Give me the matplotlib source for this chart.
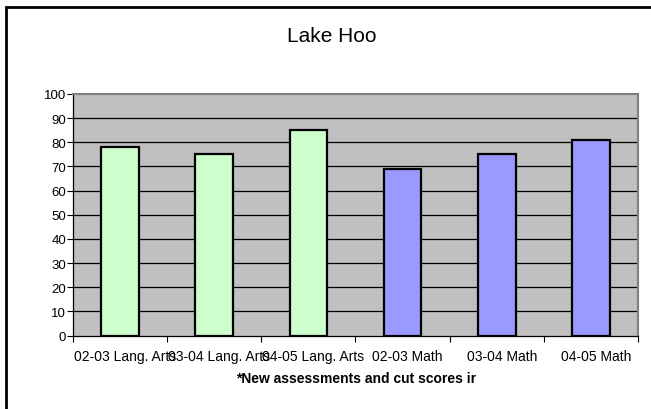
import matplotlib.pyplot as plt
from matplotlib.patches import Rectangle
from matplotlib.transforms import ScaledTranslation

plt.rcParams['font.family'] = ['Liberation Sans', 'DejaVu Sans']

categories = ["02-03 Lang. Arts", "03-04 Lang. Arts", "04-05 Lang. Arts",
              "02-03 Math", "03-04 Math", "04-05 Math"]
scores = [78, 75, 85, 69, 75, 81]
colors = ["#CCFFCC", "#CCFFCC", "#CCFFCC", "#9999FF", "#9999FF", "#9999FF"]
yticks = [0, 10, 20, 30, 40, 50, 60, 70, 80, 90, 100]

W, H = 651, 410
fig = plt.figure(figsize=(W / 100, H / 100), dpi=100)

# outer chart border, runs off the right and bottom edges
fig.patches.append(Rectangle((6 / W, -0.1), 1.2, 1 - 8 / H + 0.1,
                             transform=fig.transFigure, fill=False,
                             edgecolor="black", linewidth=2))

ax = fig.add_axes([73 / W, 1 - 336.5 / H, (638 - 73) / W, (336.5 - 95) / H])
ax.set_facecolor("#C0C0C0")

x = range(len(categories))
ax.bar(x, scores, width=0.4, color=colors, edgecolor="black", linewidth=1.6, zorder=3)

ax.set_xlim(-0.5, len(categories) - 0.5)
ax.set_ylim(0, 100)
ax.set_yticks(yticks)
ax.set_yticklabels([str(v) for v in yticks], fontsize=9.5)
for v in yticks[1:-1]:
    ax.axhline(v, color="black", linewidth=0.9, zorder=1)

ax.set_xticks(x)
ax.set_xticklabels(categories, fontsize=10)
ax.tick_params(axis="x", length=0, pad=10)
ax.tick_params(axis="y", length=4.5, width=0.8, pad=0.5)
# category boundary ticks
ax.set_xticks([i + 0.5 for i in range(-1, len(categories))], minor=True)
ax.tick_params(axis="x", which="minor", length=4.5, width=0.8)
shift = ScaledTranslation(5 / 100, 0, fig.dpi_scale_trans)
for lab in ax.get_xticklabels():
    lab.set_transform(lab.get_transform() + shift)

for side in ["left", "bottom"]:
    ax.spines[side].set_color("black")
    ax.spines[side].set_linewidth(0.9)
for side in ["top", "right"]:
    ax.spines[side].set_color("#808080")
    ax.spines[side].set_linewidth(1.5)

fig.text(287 / W, 1 - 42 / H, "Lake Hoo", fontsize=15, ha="left", va="baseline")
fig.text(356 / W, 1 - 379 / H, "*New assessments and cut scores ir",
         fontsize=10, fontweight="bold", ha="center", va="center")

fig.savefig("out.png", dpi=100)
